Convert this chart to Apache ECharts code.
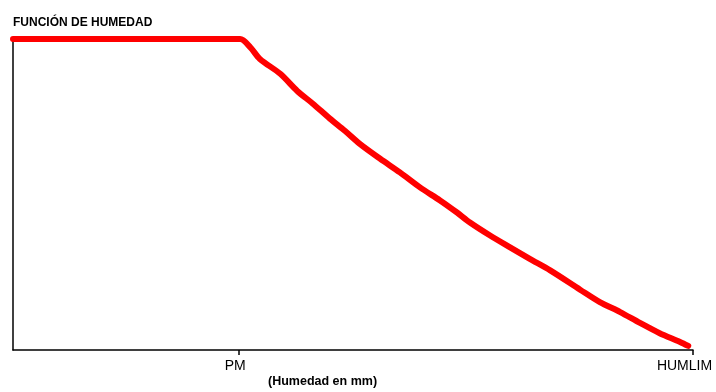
<!DOCTYPE html>
<html>
<head>
<meta charset="utf-8">
<script src="https://cdn.jsdelivr.net/npm/echarts@6/dist/echarts.min.js"></script>
<style>html,body{margin:0;padding:0;background:#fff;}#c{width:716px;height:392px;}</style>
</head>
<body>
<div id="c"></div>
<script>
const titleText = "FUNCIÓN DE HUMEDAD";
const axisNameText = "(Humedad en mm)";
const tickValues = [33.2, 100];
const tickLabels = ["PM", "HUMLIM"];
const xValues = [0, 33.4, 34.9, 36.3, 39.3, 41.8, 44.1, 46.6, 48.8, 51.0, 54.0, 56.9, 59.9, 62.8, 65.3, 67.2, 70.1, 73.1, 76.0, 79.0, 83.4, 86.3, 89.3, 92.2, 95.1, 98.1, 99.3];
const yValues = [100, 100, 97.3, 93.6, 88.8, 83.3, 79.2, 74.4, 70.5, 66.3, 61.5, 57.1, 52.2, 48.1, 44.2, 41.0, 36.9, 33.0, 29.3, 25.6, 19.4, 15.4, 12.2, 8.7, 5.4, 2.6, 1.3];

const data = xValues.map((x, i) => [x, yValues[i]]);
const chart = echarts.init(document.getElementById('c'), null, {renderer: 'canvas'});
const font = "'Liberation Sans Narrow', 'Liberation Sans', Arial, sans-serif";
const labelFont = "'Liberation Sans', Arial, sans-serif";
chart.setOption({
  animation: false,
  backgroundColor: '#fff',
  title: [
    {text: titleText, left: 8, top: 12, textStyle: {fontFamily: font, fontWeight: 'bold', fontSize: 12, color: '#000'}},
    {text: axisNameText, left: 263, top: 370, textStyle: {fontFamily: font, fontWeight: 'bold', fontSize: 12.5, color: '#000'}}
  ],
  grid: {left: 13, right: 23, top: 39, bottom: 42, containLabel: false},
  xAxis: {
    type: 'value', min: 0, max: 100,
    axisLine: {show: true, lineStyle: {color: '#000', width: 1.5}},
    axisTick: {show: true, length: 5, customValues: tickValues, lineStyle: {color: '#000', width: 1.5}},
    axisLabel: {show: true, customValues: tickValues, margin: 9, color: '#000', fontSize: 14, fontFamily: labelFont,
      formatter: function (v) { const i = tickValues.indexOf(v); return i === 0 ? '{a|' + tickLabels[0] + '}' : (i === 1 ? '{b|' + tickLabels[1] + '}' : ''); },
      rich: {
        a: {fontSize: 14, fontFamily: labelFont, color: '#000', padding: [0, 7, 0, 0]},
        b: {fontSize: 14, fontFamily: labelFont, color: '#000', padding: [0, 17, 0, 0]}
      }
    },
    splitLine: {show: false}
  },
  yAxis: {
    type: 'value', min: 0, max: 100,
    axisLine: {show: true, lineStyle: {color: '#000', width: 1.5}},
    axisTick: {show: false}, axisLabel: {show: false}, splitLine: {show: false}
  },
  series: [{
    type: 'line', data: data, symbol: 'none', smooth: 0.3, clip: false,
    lineStyle: {color: '#ff0000', width: 6, cap: 'round', join: 'round'}
  }]
});
</script>
</body>
</html>
